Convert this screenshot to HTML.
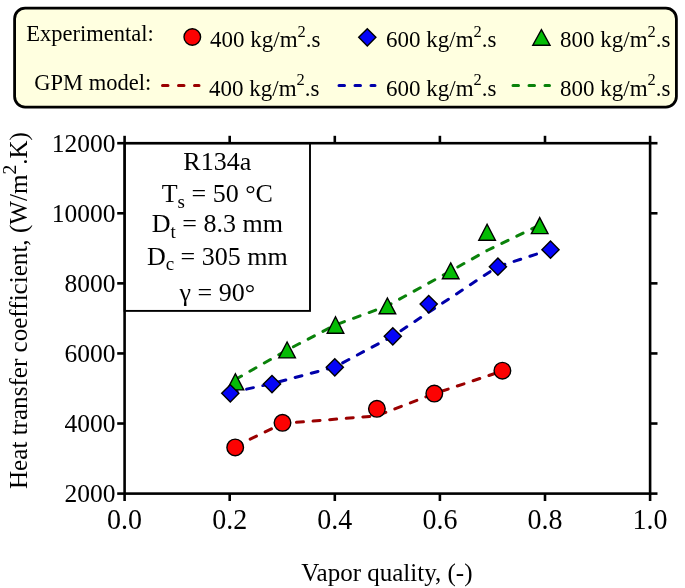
<!DOCTYPE html>
<html><head><meta charset="utf-8"><style>
html,body{margin:0;padding:0;background:#fff;}
body{width:685px;height:588px;overflow:hidden;}
svg{display:block;font-family:"Liberation Serif", serif;will-change:transform;}
text{fill:#000;}
</style></head><body>
<svg width="685" height="588" viewBox="0 0 685 588">
<rect x="14.6" y="8.2" width="661.8" height="98.9" rx="10.5" ry="10.5" fill="#FFFFE0" stroke="#000" stroke-width="2.8"/>
<text transform="translate(26.2,41.2) scale(1,1.07)" font-size="22.5">Experimental:</text>
<text transform="translate(34.3,89.7) scale(1,1.07)" font-size="22.5">GPM model:</text>
<text x="210" y="47" font-size="23">400 kg/m<tspan font-size="16.5" dy="-10.5">2</tspan><tspan dy="10.5">.s</tspan></text>
<text x="386" y="47" font-size="23">600 kg/m<tspan font-size="16.5" dy="-10.5">2</tspan><tspan dy="10.5">.s</tspan></text>
<text x="560" y="47" font-size="23">800 kg/m<tspan font-size="16.5" dy="-10.5">2</tspan><tspan dy="10.5">.s</tspan></text>
<text x="209" y="95.5" font-size="23">400 kg/m<tspan font-size="16.5" dy="-10.5">2</tspan><tspan dy="10.5">.s</tspan></text>
<text x="386" y="95.5" font-size="23">600 kg/m<tspan font-size="16.5" dy="-10.5">2</tspan><tspan dy="10.5">.s</tspan></text>
<text x="560" y="95.5" font-size="23">800 kg/m<tspan font-size="16.5" dy="-10.5">2</tspan><tspan dy="10.5">.s</tspan></text>
<circle cx="192.30" cy="37.00" r="8.3" fill="#FC0202" stroke="#000" stroke-width="1.4"/>
<path d="M367.30 28.70L375.90 37.30L367.30 45.90L358.70 37.30Z" fill="#0505F8" stroke="#000" stroke-width="1.4"/>
<path d="M541.40 29.60L550.00 45.20L532.80 45.20Z" fill="#05BC05" stroke="#000" stroke-width="1.4" stroke-linejoin="miter"/>
<line x1="162.5" y1="85.4" x2="199" y2="85.4" stroke="#9A0000" stroke-width="3" stroke-dasharray="5.5 10.5" stroke-linecap="round"/>
<line x1="339" y1="85.4" x2="375" y2="85.4" stroke="#0000AA" stroke-width="3" stroke-dasharray="5.5 10.5" stroke-linecap="round"/>
<line x1="513" y1="85.4" x2="549.5" y2="85.4" stroke="#0A820A" stroke-width="3" stroke-dasharray="5.5 10.5" stroke-linecap="round"/>
<rect x="124.6" y="143.2" width="525.50" height="350.40" fill="none" stroke="#000" stroke-width="2.6"/>
<rect x="124.6" y="143.2" width="185.40" height="167.70" fill="none" stroke="#000" stroke-width="1.9"/>
<line x1="124.60" y1="493.6" x2="124.60" y2="501.0" stroke="#000" stroke-width="2.6"/>
<line x1="124.60" y1="143.2" x2="124.60" y2="135.79999999999998" stroke="#000" stroke-width="2.6"/>
<text transform="translate(124.60,529.3) scale(1,1.055)" font-size="28" text-anchor="middle">0.0</text>
<line x1="229.70" y1="493.6" x2="229.70" y2="501.0" stroke="#000" stroke-width="2.6"/>
<line x1="229.70" y1="143.2" x2="229.70" y2="135.79999999999998" stroke="#000" stroke-width="2.6"/>
<text transform="translate(229.70,529.3) scale(1,1.055)" font-size="28" text-anchor="middle">0.2</text>
<line x1="334.80" y1="493.6" x2="334.80" y2="501.0" stroke="#000" stroke-width="2.6"/>
<line x1="334.80" y1="143.2" x2="334.80" y2="135.79999999999998" stroke="#000" stroke-width="2.6"/>
<text transform="translate(334.80,529.3) scale(1,1.055)" font-size="28" text-anchor="middle">0.4</text>
<line x1="439.90" y1="493.6" x2="439.90" y2="501.0" stroke="#000" stroke-width="2.6"/>
<line x1="439.90" y1="143.2" x2="439.90" y2="135.79999999999998" stroke="#000" stroke-width="2.6"/>
<text transform="translate(439.90,529.3) scale(1,1.055)" font-size="28" text-anchor="middle">0.6</text>
<line x1="545.00" y1="493.6" x2="545.00" y2="501.0" stroke="#000" stroke-width="2.6"/>
<line x1="545.00" y1="143.2" x2="545.00" y2="135.79999999999998" stroke="#000" stroke-width="2.6"/>
<text transform="translate(545.00,529.3) scale(1,1.055)" font-size="28" text-anchor="middle">0.8</text>
<line x1="650.10" y1="493.6" x2="650.10" y2="501.0" stroke="#000" stroke-width="2.6"/>
<line x1="650.10" y1="143.2" x2="650.10" y2="135.79999999999998" stroke="#000" stroke-width="2.6"/>
<text transform="translate(650.10,529.3) scale(1,1.055)" font-size="28" text-anchor="middle">1.0</text>
<line x1="124.6" y1="493.60" x2="117.19999999999999" y2="493.60" stroke="#000" stroke-width="2.6"/>
<line x1="650.1" y1="493.60" x2="657.5" y2="493.60" stroke="#000" stroke-width="2.6"/>
<text x="115.5" y="502.20" font-size="25.5" text-anchor="end">2000</text>
<line x1="124.6" y1="423.52" x2="117.19999999999999" y2="423.52" stroke="#000" stroke-width="2.6"/>
<line x1="650.1" y1="423.52" x2="657.5" y2="423.52" stroke="#000" stroke-width="2.6"/>
<text x="115.5" y="432.12" font-size="25.5" text-anchor="end">4000</text>
<line x1="124.6" y1="353.44" x2="117.19999999999999" y2="353.44" stroke="#000" stroke-width="2.6"/>
<line x1="650.1" y1="353.44" x2="657.5" y2="353.44" stroke="#000" stroke-width="2.6"/>
<text x="115.5" y="362.04" font-size="25.5" text-anchor="end">6000</text>
<line x1="124.6" y1="283.36" x2="117.19999999999999" y2="283.36" stroke="#000" stroke-width="2.6"/>
<line x1="650.1" y1="283.36" x2="657.5" y2="283.36" stroke="#000" stroke-width="2.6"/>
<text x="115.5" y="291.96" font-size="25.5" text-anchor="end">8000</text>
<line x1="124.6" y1="213.28" x2="117.19999999999999" y2="213.28" stroke="#000" stroke-width="2.6"/>
<line x1="650.1" y1="213.28" x2="657.5" y2="213.28" stroke="#000" stroke-width="2.6"/>
<text x="115.5" y="221.88" font-size="25.5" text-anchor="end">10000</text>
<line x1="124.6" y1="143.20" x2="117.19999999999999" y2="143.20" stroke="#000" stroke-width="2.6"/>
<line x1="650.1" y1="143.20" x2="657.5" y2="143.20" stroke="#000" stroke-width="2.6"/>
<text x="115.5" y="151.80" font-size="25.5" text-anchor="end">12000</text>
<text x="217.3" y="169.9" font-size="26" text-anchor="middle">R134a</text>
<text x="217.3" y="202.4" font-size="26" text-anchor="middle">T<tspan font-size="19" dy="5.5">s</tspan><tspan dy="-5.5"> = 50 °C</tspan></text>
<text x="217.3" y="232" font-size="26" text-anchor="middle">D<tspan font-size="19" dy="5.5">t</tspan><tspan dy="-5.5"> = 8.3 mm</tspan></text>
<text x="217.3" y="264.7" font-size="26" text-anchor="middle">D<tspan font-size="19" dy="5.5">c</tspan><tspan dy="-5.5"> = 305 mm</tspan></text>
<text x="217.3" y="301.1" font-size="26" text-anchor="middle">γ = 90°</text>
<polyline points="235.2,446.5 282.5,423.5 377,415.8 434.3,393.7 502.4,371" fill="none" stroke="#9A0000" stroke-width="3" stroke-dasharray="7 9.65" stroke-linecap="round" stroke-linejoin="round"/>
<polyline points="235.4,379.5 287.1,350 335.5,324.9 387.4,305.8 450.7,271 487.1,250.5 539.7,225" fill="none" stroke="#0A820A" stroke-width="3" stroke-dasharray="7 9.65" stroke-linecap="round" stroke-linejoin="round"/>
<polyline points="230.3,392.7 272,383.6 334.8,367 392.8,336.1 428.7,312.3 497.9,266.5 550.5,249.7" fill="none" stroke="#0000AA" stroke-width="3" stroke-dasharray="7 9.65" stroke-linecap="round" stroke-linejoin="round"/>
<path d="M235.40 373.80L243.70 389.90L227.10 389.90Z" fill="#05BC05" stroke="#000" stroke-width="1.4" stroke-linejoin="miter"/>
<path d="M287.10 342.00L295.40 357.90L278.80 357.90Z" fill="#05BC05" stroke="#000" stroke-width="1.4" stroke-linejoin="miter"/>
<path d="M335.50 316.80L343.80 333.30L327.20 333.30Z" fill="#05BC05" stroke="#000" stroke-width="1.4" stroke-linejoin="miter"/>
<path d="M387.40 298.00L395.70 313.80L379.10 313.80Z" fill="#05BC05" stroke="#000" stroke-width="1.4" stroke-linejoin="miter"/>
<path d="M450.70 262.90L459.00 278.70L442.40 278.70Z" fill="#05BC05" stroke="#000" stroke-width="1.4" stroke-linejoin="miter"/>
<path d="M487.10 224.30L495.40 240.30L478.80 240.30Z" fill="#05BC05" stroke="#000" stroke-width="1.4" stroke-linejoin="miter"/>
<path d="M539.70 217.60L548.00 233.60L531.40 233.60Z" fill="#05BC05" stroke="#000" stroke-width="1.4" stroke-linejoin="miter"/>
<path d="M230.30 384.70L238.90 393.30L230.30 401.90L221.70 393.30Z" fill="#0505F8" stroke="#000" stroke-width="1.4"/>
<path d="M272.00 375.50L280.60 384.10L272.00 392.70L263.40 384.10Z" fill="#0505F8" stroke="#000" stroke-width="1.4"/>
<path d="M334.80 358.70L343.40 367.30L334.80 375.90L326.20 367.30Z" fill="#0505F8" stroke="#000" stroke-width="1.4"/>
<path d="M392.80 327.70L401.40 336.30L392.80 344.90L384.20 336.30Z" fill="#0505F8" stroke="#000" stroke-width="1.4"/>
<path d="M428.70 295.50L437.30 304.10L428.70 312.70L420.10 304.10Z" fill="#0505F8" stroke="#000" stroke-width="1.4"/>
<path d="M497.90 258.10L506.50 266.70L497.90 275.30L489.30 266.70Z" fill="#0505F8" stroke="#000" stroke-width="1.4"/>
<path d="M550.50 241.10L559.10 249.70L550.50 258.30L541.90 249.70Z" fill="#0505F8" stroke="#000" stroke-width="1.4"/>
<circle cx="235.20" cy="447.40" r="8.3" fill="#FC0202" stroke="#000" stroke-width="1.4"/>
<circle cx="282.50" cy="422.80" r="8.3" fill="#FC0202" stroke="#000" stroke-width="1.4"/>
<circle cx="376.90" cy="408.80" r="8.3" fill="#FC0202" stroke="#000" stroke-width="1.4"/>
<circle cx="434.30" cy="393.60" r="8.3" fill="#FC0202" stroke="#000" stroke-width="1.4"/>
<circle cx="502.40" cy="370.70" r="8.3" fill="#FC0202" stroke="#000" stroke-width="1.4"/>
<text x="386.9" y="581" font-size="25" text-anchor="middle">Vapor quality, (-)</text>
<text transform="translate(27,489) rotate(-90)" x="0" y="0" font-size="25.1">Heat transfer coefficient, (W/m<tspan font-size="19.5" dy="-11">2</tspan><tspan dy="11">.K)</tspan></text>
</svg>
</body></html>
